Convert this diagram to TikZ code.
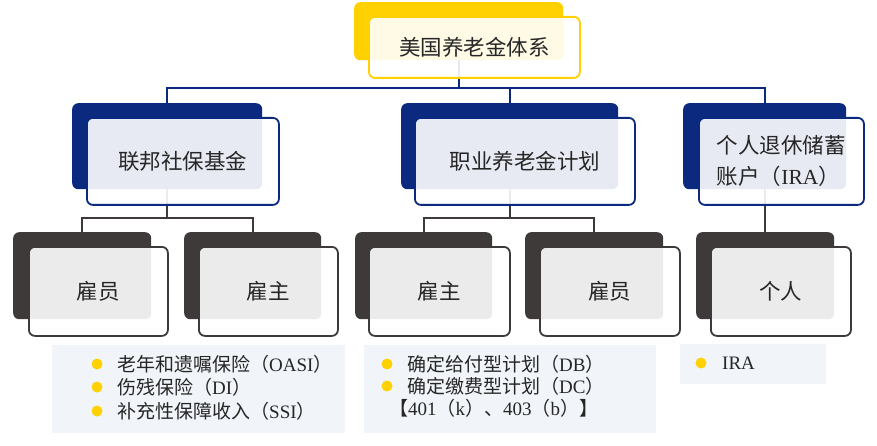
\documentclass[tikz,border=0pt]{standalone}
\usepackage{fontspec}
\setmainfont{Liberation Serif}
\newfontfamily\cjk{Noto Sans CJK SC}
\newcommand\zh[1]{{\cjk #1}}
\definecolor{cyel}{HTML}{FFD100}
\definecolor{cblue}{HTML}{0B2A7F}
\definecolor{cgray}{HTML}{3E3A39}
\definecolor{cinfo}{HTML}{F1F5F9}
\definecolor{ctext}{HTML}{262626}
\tikzset{
  backbox/.style={rounded corners=6pt, inner sep=0pt, anchor=north west, draw=none},
  frontbox/.style={rounded corners=6pt, inner sep=0pt, anchor=north west, line width=1.8pt,
    fill=white, fill opacity=0.9, text opacity=1, text=ctext, align=left,
    font=\cjk\fontsize{21.5}{31}\selectfont},
  bconn/.style={draw=cblue, line width=1.8pt},
  gconn/.style={draw=cgray, line width=1.8pt},
  infobox/.style={fill=cinfo, draw=none, inner sep=0pt, anchor=north west},
  dotmark/.style={circle, fill=cyel, draw=none, minimum size=11pt, inner sep=0pt},
  infotext/.style={anchor=west, inner sep=0pt, text=ctext, font=\fontsize{19}{23}\selectfont}
}
\begin{document}
\begin{tikzpicture}[x=1pt,y=-1pt]
\useasboundingbox (0,0) rectangle (877,446);
% back boxes
\node[backbox, fill=cyel, minimum width=209pt, minimum height=58pt] (topb) at (354,2) {};
\node[backbox, fill=cblue, minimum width=190pt, minimum height=86pt] (l2ab) at (72,103) {};
\node[backbox, fill=cblue, minimum width=217pt, minimum height=86pt] (l2bb) at (401,103) {};
\node[backbox, fill=cblue, minimum width=163pt, minimum height=86pt] (l2cb) at (683,103) {};
\node[backbox, fill=cgray, minimum width=138pt, minimum height=87pt] (l3ab) at (13,232) {};
\node[backbox, fill=cgray, minimum width=137pt, minimum height=87pt] (l3bb) at (184,232) {};
\node[backbox, fill=cgray, minimum width=137pt, minimum height=87pt] (l3cb) at (355,232) {};
\node[backbox, fill=cgray, minimum width=138pt, minimum height=87pt] (l3db) at (525,232) {};
\node[backbox, fill=cgray, minimum width=138pt, minimum height=87pt] (l3eb) at (696,232) {};
% connectors
\coordinate (bus0) at (0,88);
\coordinate (bus1) at (0,218);
\draw[bconn] (topb.south) -- (topb.south |- bus0) -| (l2ab.north);
\draw[bconn] (topb.south |- bus0) -| (l2bb.north);
\draw[bconn] (topb.south |- bus0) -| (l2cb.north);
\draw[gconn] (l2ab.south) -- (l2ab.south |- bus1) -| (l3ab.north);
\draw[gconn] (l2ab.south |- bus1) -| (l3bb.north);
\draw[gconn] (l2bb.south) -- (l2bb.south |- bus1) -| (l3cb.north);
\draw[gconn] (l2bb.south |- bus1) -| (l3db.north);
\draw[gconn] (l2cb.south) -- (l2cb.south |- l3eb.north);
% front boxes
\node[frontbox, draw=cyel, minimum width=211pt, minimum height=61pt] (topf) at (368,16) {美国养老金体系};
\node[frontbox, draw=cblue, minimum width=192pt, minimum height=87pt] (l2af) at (86,117) {联邦社保基金};
\node[frontbox, draw=cblue, minimum width=220pt, minimum height=87pt] (l2bf) at (414,117) {职业养老金计划};
\node[frontbox, draw=cblue, minimum width=165pt, minimum height=87pt] (l2cf) at (698,117) {个人退休储蓄\\账户（\textrm{IRA}）};
\node[frontbox, draw=cgray, minimum width=139pt, minimum height=89pt] (l3af) at (28,246) {雇员};
\node[frontbox, draw=cgray, minimum width=139pt, minimum height=89pt] (l3bf) at (198,246) {雇主};
\node[frontbox, draw=cgray, minimum width=141pt, minimum height=89pt] (l3cf) at (368,246) {雇主};
\node[frontbox, draw=cgray, minimum width=140pt, minimum height=89pt] (l3df) at (539,246) {雇员};
\node[frontbox, draw=cgray, minimum width=140pt, minimum height=89pt] (l3ef) at (710,246) {个人};
% info boxes
\node[infobox, minimum width=293pt, minimum height=88pt] (info1) at (52,345) {};
\node[infobox, minimum width=292pt, minimum height=88pt] (info2) at (364,345) {};
\node[infobox, minimum width=146pt, minimum height=40pt] (info3) at (680,344) {};
\node[dotmark] (d11) at (97,364) {};
\node[dotmark] (d12) at (97,387) {};
\node[dotmark] (d13) at (97,411) {};
\node[infotext] (t11) at (117,364) {\zh{老年和遗嘱保险（}OASI\zh{）}};
\node[infotext] (t12) at (117,387) {\zh{伤残保险（}DI\zh{）}};
\node[infotext] (t13) at (117,411) {\zh{补充性保障收入（}SSI\zh{）}};
\node[dotmark] (d21) at (387,364) {};
\node[dotmark] (d22) at (387,386) {};
\node[infotext] (t21) at (407,364) {\zh{确定给付型计划（}DB\zh{）}};
\node[infotext] (t22) at (407,386) {\zh{确定缴费型计划（}DC\zh{）}};
\node[infotext] (t23) at (389,408) {\zh{【}401\zh{（}k\zh{）、}403\zh{（}b\zh{）】}};
\node[dotmark] (d31) at (701,363) {};
\node[infotext] (t31) at (722,363) {IRA};
\end{tikzpicture}
\end{document}
